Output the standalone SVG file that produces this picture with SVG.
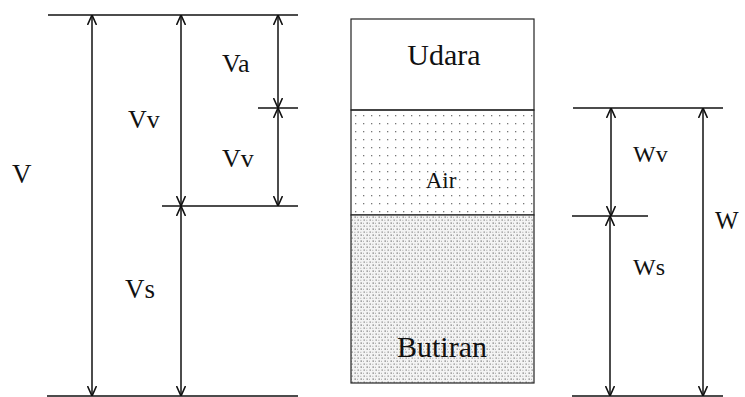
<svg xmlns="http://www.w3.org/2000/svg" width="745" height="397" viewBox="0 0 745 397">
<style>
.ln{stroke:#111;stroke-width:1.5;fill:none}
.dim{stroke:#111;stroke-width:1.5;fill:none;marker-start:url(#ah);marker-end:url(#ah)}
.box{stroke:#222;stroke-width:1.2}
text{fill:#111}
</style>
<defs>
<marker id="ah" viewBox="0 0 10 10" refX="10" refY="5" markerWidth="10" markerHeight="10" markerUnits="userSpaceOnUse" orient="auto-start-reverse">
<path d="M0,0.5 L10,5 L0,9.5" fill="none" stroke="#111" stroke-width="1.6"/>
</marker>
<pattern id="sparse" width="8" height="8" patternUnits="userSpaceOnUse">
<rect x="3" y="3" width="1.3" height="1.3" fill="#777"/>
</pattern>
<pattern id="dense" width="6" height="6" patternUnits="userSpaceOnUse">
<rect width="6" height="6" fill="#f4f4f4"/>
<rect x="0.5" y="0.5" width="1.4" height="1.2" fill="#777"/>
<rect x="3.5" y="3.5" width="1.4" height="1.2" fill="#888"/>
<rect x="3" y="0.8" width="1" height="1" fill="#aaa"/>
<rect x="0.3" y="3.8" width="1" height="1" fill="#aaa"/>
</pattern>
</defs>
<rect width="745" height="397" fill="#fff"/>

<g font-family="Liberation Serif, Times New Roman, DejaVu Serif, serif">
<g id="udara">
<rect x="351" y="19" width="183" height="91" fill="#fff" class="box"/>
<text x="444" y="65" font-size="30" text-anchor="middle">Udara</text>
</g>
<g id="air">
<rect x="351" y="110" width="183" height="105" fill="url(#sparse)" class="box"/>
<text x="441" y="188" font-size="23" text-anchor="middle">Air</text>
</g>
<g id="butiran">
<rect x="351" y="215" width="183" height="168" fill="url(#dense)" class="box"/>
<text x="442" y="357" font-size="30" text-anchor="middle">Butiran</text>
</g>

<g id="connectors">
<line class="ln" x1="48" y1="15" x2="298" y2="15"/>
<line class="ln" x1="258" y1="108" x2="298" y2="108"/>
<line class="ln" x1="162" y1="206" x2="298" y2="206"/>
<line class="ln" x1="47" y1="396" x2="298" y2="396"/>
<line class="dim" x1="92" y1="15" x2="92" y2="396"/>
<line class="dim" x1="181" y1="15" x2="181" y2="206"/>
<line class="dim" x1="181" y1="206" x2="181" y2="396"/>
<line class="dim" x1="278" y1="15" x2="278" y2="108"/>
<line class="dim" x1="278" y1="108" x2="278" y2="206"/>

<line class="ln" x1="573" y1="108" x2="723" y2="108"/>
<line class="ln" x1="572" y1="216" x2="648" y2="216"/>
<line class="ln" x1="572" y1="396" x2="723" y2="396"/>
<line class="dim" x1="611" y1="108" x2="611" y2="216"/>
<line class="dim" x1="610" y1="216" x2="610" y2="396"/>
<line class="dim" x1="703" y1="108" x2="703" y2="396"/>
</g>

<g id="labels">
<text x="222" y="72" font-size="26">Va</text>
<text x="128" y="128" font-size="26">Vv</text>
<text x="12" y="183" font-size="27">V</text>
<text x="222" y="167" font-size="26">Vv</text>
<text x="125" y="298" font-size="27">Vs</text>
<text x="633" y="162" font-size="24">Wv</text>
<text x="633" y="275" font-size="24">Ws</text>
<text x="715" y="229" font-size="25">W</text>
</g>
</g>
</svg>
